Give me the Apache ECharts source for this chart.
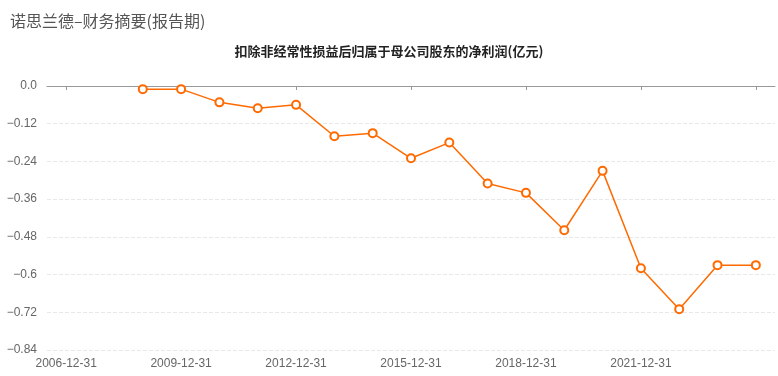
<!DOCTYPE html>
<html><head><meta charset="utf-8">
<script src="https://cdn.jsdelivr.net/npm/echarts@6/dist/echarts.min.js"></script>
<style>html,body{margin:0;padding:0;background:#fff}#c{width:778px;height:376px}</style>
</head><body><div id="c"></div>
<script>
const categories = ['2006-12-31','2007-12-31','2008-12-31','2009-12-31','2010-12-31','2011-12-31','2012-12-31','2013-12-31','2014-12-31','2015-12-31','2016-12-31','2017-12-31','2018-12-31','2019-12-31','2020-12-31','2021-12-31','2022-12-31','2023-12-31','2024-12-31'];
const values = [null,null,-0.01,-0.01,-0.052,-0.071,-0.060,-0.160,-0.150,-0.230,-0.180,-0.310,-0.340,-0.459,-0.270,-0.580,-0.710,-0.570,-0.570];
const mainTitle = '诺思兰德–财务摘要(报告期)';
const subTitle = '扣除非经常性损益后归属于母公司股东的净利润(亿元)';

const chart = echarts.init(document.getElementById('c'), null, {renderer:'canvas'});
const font = '"Noto Sans CJK SC", "Noto Sans", sans-serif';
const lastIdx = categories.length - 1;
chart.setOption({
  animation:false,
  title:[
    {text:mainTitle,left:5,top:8,textStyle:{fontSize:16,fontWeight:'normal',color:'#555',fontFamily:font}},
    {text:subTitle,left:'center',top:40,textStyle:{fontSize:13,fontWeight:'bold',color:'#222',fontFamily:font}}
  ],
  grid:{left:47,right:3,top:86,bottom:26,containLabel:false,outerBoundsMode:'none'},
  xAxis:[
    {type:'category',data:categories,boundaryGap:true,position:'bottom',
     axisLine:{show:false,onZero:false},axisTick:{show:false},
     axisLabel:{interval:function(i){return i%3===0 && i!==lastIdx;},color:'#666',fontSize:12,margin:8,fontFamily:'"Liberation Sans", Arial, sans-serif'}},
    {type:'category',data:categories,boundaryGap:true,position:'bottom',
     axisLine:{show:true,onZero:true,lineStyle:{color:'#999',width:1}},
     axisTick:{show:true,alignWithLabel:true,interval:2,length:4,lineStyle:{color:'#999'}},
     axisLabel:{show:false}}
  ],
  yAxis:{type:'value',min:-0.84,max:0,interval:0.12,
    axisLine:{show:false},axisTick:{show:false},
    splitLine:{lineStyle:{type:'dashed',color:'#e8e8e8'}},
    axisLabel:{color:'#666',fontSize:12,margin:10,fontFamily:'"Liberation Sans", Arial, sans-serif',
      formatter:function(v){ if(Math.abs(v)<1e-9) return '0.0'; return '−'+String(+Math.abs(v).toFixed(2)); }}},
  series:[{type:'line',data:values,xAxisIndex:0,symbol:'emptyCircle',symbolSize:8,
    lineStyle:{color:'#ff6a00',width:1.5},
    itemStyle:{color:'#ff6a00',borderColor:'#ff6a00',borderWidth:2}}]
});
</script></body></html>
